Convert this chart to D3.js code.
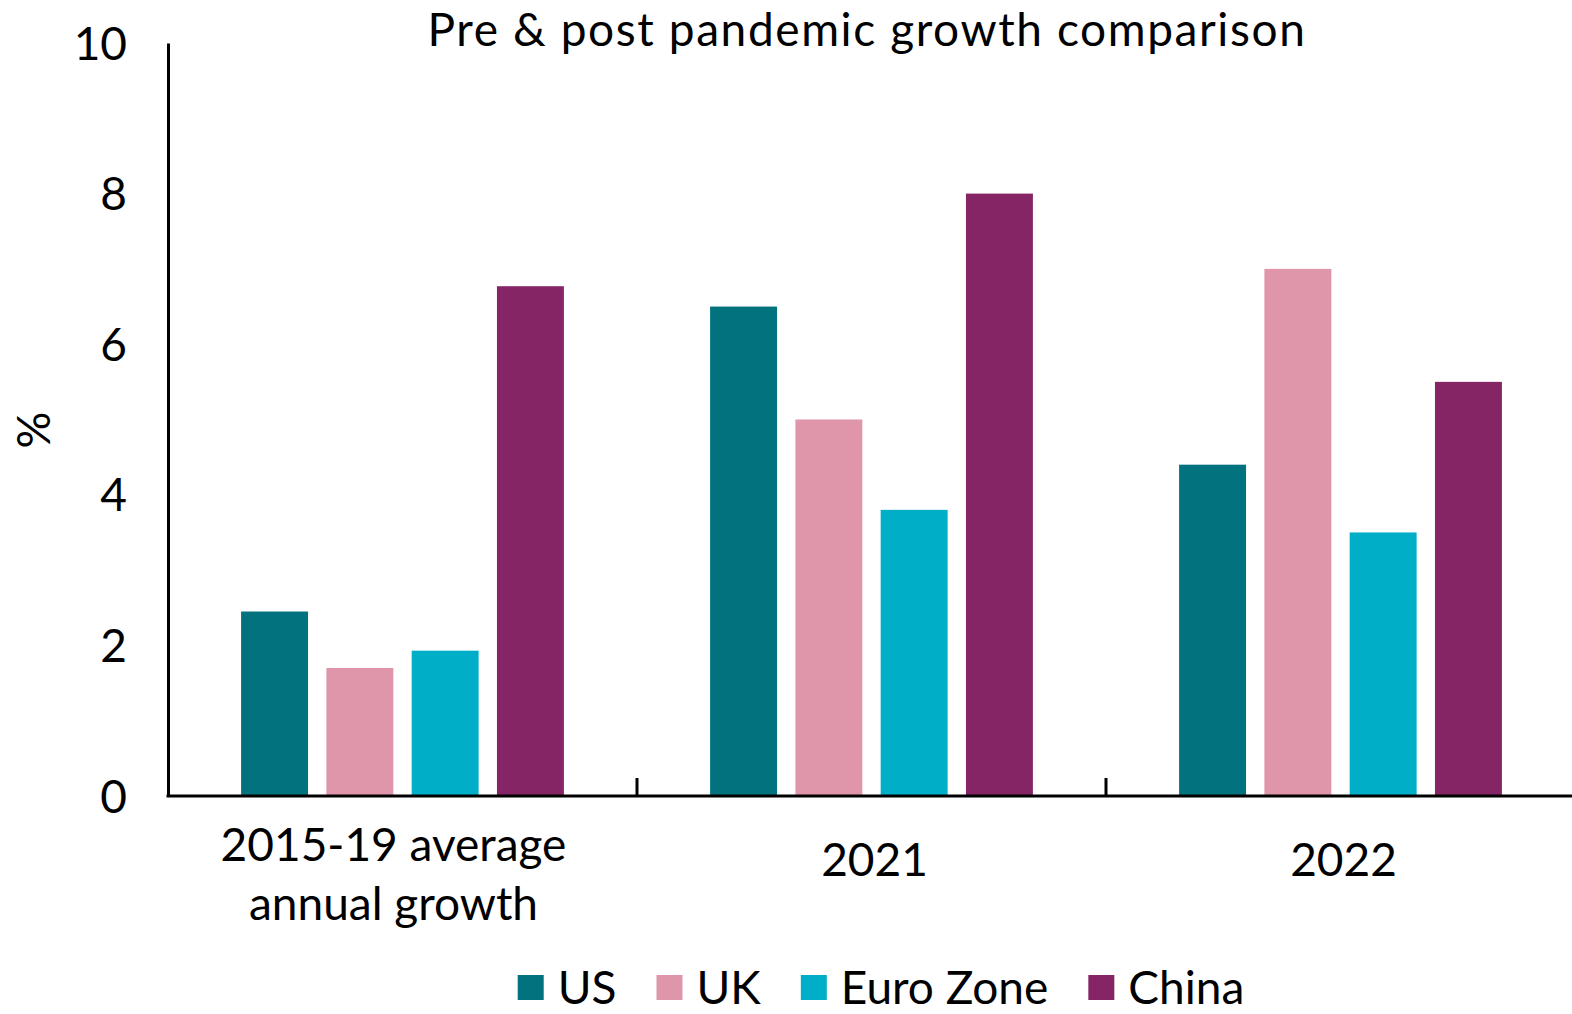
<!DOCTYPE html>
<html><head><meta charset="utf-8">
<script src="https://cdn.jsdelivr.net/npm/d3@7"></script>
<style>body{margin:0;background:#fff}svg{display:block}text{font-family:Lato,"Open Sans",sans-serif;fill:#000}</style>
</head><body><svg id="c" width="1572" height="1014"></svg>
<script>
const categories = [["2015-19 average","annual growth"],["2021"],["2022"]];
const seriesNames = ["US","UK","Euro Zone","China"];
const colors = ["#03727F","#E096AA","#00AFC7","#862565"];
const usValues = [2.45, 6.5, 4.4];
const ukValues = [1.7, 5.0, 7.0];
const euroZoneValues = [1.93, 3.8, 3.5];
const chinaValues = [6.77, 8.0, 5.5];
const yTicks = [0,2,4,6,8,10];
const title = "Pre & post pandemic growth comparison";
const yLabel = "%";

const series = [usValues, ukValues, euroZoneValues, chinaValues];
const svg = d3.select("#c");
const FS = 46;
const x0 = 168, groupW = 469, yBase = 796, yTop = 43;
const catKeys = categories.map((c,i)=>i);
const x = d3.scaleBand().domain(catKeys).range([x0, x0+3*groupW]).padding(0);
const xi = d3.scaleBand().domain(d3.range(4)).range([0, groupW]).paddingInner(0.215).paddingOuter(0.857);
const y = d3.scaleLinear().domain([0,10]).range([yBase, yTop]);

// bars
const g = svg.append("g");
catKeys.forEach(ci=>{
  series.forEach((s,si)=>{
    g.append("rect")
      .attr("x", x(ci)+xi(si)).attr("width", xi.bandwidth())
      .attr("y", y(s[ci])).attr("height", y(0)-y(s[ci]))
      .attr("fill", colors[si]);
  });
});

// y axis
const yAxis = d3.axisLeft(y).tickValues(yTicks).tickSize(0).tickPadding(0).tickFormat(d3.format("d"));
const ya = svg.append("g").attr("transform",`translate(${x0},0)`).call(yAxis);
ya.select(".domain").attr("stroke","#000").attr("stroke-width",3);
ya.selectAll(".tick text").attr("font-size",FS).attr("font-family","Lato").attr("x",-41).attr("dy","0.35em").attr("fill","#000");

// x axis line and group separators
svg.append("line").attr("x1",x0-1.5).attr("x2",1572).attr("y1",yBase).attr("y2",yBase).attr("stroke","#000").attr("stroke-width",3);
[1,2].forEach(i=>{
  const xx = x0 + i*x.step();
  svg.append("line").attr("x1",xx).attr("x2",xx).attr("y1",yBase).attr("y2",yBase-18).attr("stroke","#000").attr("stroke-width",3);
});

// category labels
categories.forEach((lines,ci)=>{
  const cx = x(ci)+x.bandwidth()/2;
  const t = svg.append("text").attr("text-anchor","middle").attr("font-size",FS).attr("x",cx);
  if(lines.length===1){ t.attr("x",cx+3).attr("y",876).text(lines[0]); }
  else {
    lines.forEach((l,li)=>t.append("tspan").attr("x",cx-9).attr("y",861+li*59).text(l));
  }
});

// title
svg.append("text").attr("x",867).attr("y",46).attr("text-anchor","middle").attr("font-size",46).attr("letter-spacing","1.6px").text(title);

// y label
svg.append("text").attr("transform","translate(50,430) rotate(-90)").attr("text-anchor","middle").attr("font-size",FS).text(yLabel);

// legend
const lg = svg.append("g");
let cur = 0;
seriesNames.forEach((n,i)=>{
  const it = lg.append("g").attr("transform",`translate(${cur},0)`);
  it.append("rect").attr("x",0).attr("y",975).attr("width",26).attr("height",25).attr("fill",colors[i]);
  const tx = it.append("text").attr("x",40).attr("y",1004).attr("font-size",FS).text(n);
  const w = tx.node().getComputedTextLength();
  cur += 40 + w + 40;
});
const total = cur - 40;
lg.attr("transform",`translate(${881 - total/2},0)`);
</script></body></html>
